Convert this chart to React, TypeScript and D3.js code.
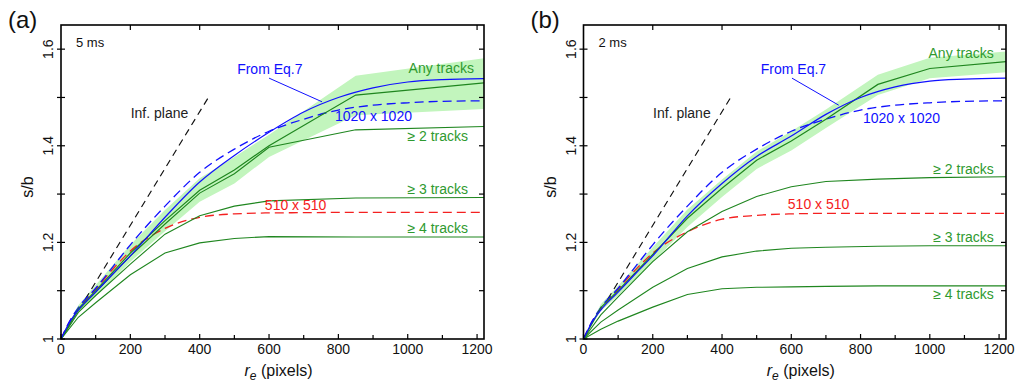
import React from "react";
import * as d3 from "d3";

// ---------- data ----------
const smoothX = [0, 25, 50, 100, 150, 200, 300, 400, 500, 600, 700, 800, 900, 1000, 1100, 1220];

const greenXA = [0, 50, 100, 200, 300, 400, 500, 600, 850, 1220];
const anyA = [1, 1.063, 1.1, 1.178, 1.245, 1.308, 1.35, 1.4, 1.505, 1.53];
const bandHiA = [1, 1.07, 1.112, 1.195, 1.267, 1.333, 1.377, 1.423, 1.545, 1.581];
const bandLoA = [1, 1.056, 1.088, 1.16, 1.223, 1.284, 1.322, 1.377, 1.463, 1.476];
const ge2A = [1, 1.06, 1.097, 1.172, 1.238, 1.302, 1.342, 1.397, 1.433, 1.44];
const ge3A = [1, 1.055, 1.09, 1.155, 1.217, 1.255, 1.275, 1.286, 1.292, 1.293];
const ge4A = [1, 1.045, 1.075, 1.133, 1.178, 1.199, 1.208, 1.212, 1.211, 1.211];
const eq7A = [1, 1.035, 1.06, 1.097, 1.135, 1.172, 1.252, 1.325, 1.38, 1.428, 1.47, 1.5, 1.52, 1.532, 1.537, 1.539];
const d1020A = [1, 1.037, 1.065, 1.105, 1.15, 1.195, 1.275, 1.345, 1.393, 1.43, 1.455, 1.474, 1.484, 1.489, 1.492, 1.493];
const d510A = [1, 1.036, 1.062, 1.103, 1.145, 1.182, 1.229, 1.252, 1.259, 1.261, 1.2615, 1.262, 1.262, 1.262, 1.262, 1.262];

const greenXB = [0, 50, 100, 200, 300, 400, 500, 600, 700, 850, 1000, 1220];
const anyB = [1, 1.065, 1.1, 1.175, 1.25, 1.312, 1.37, 1.41, 1.455, 1.527, 1.56, 1.574];
const bandHiB = [1, 1.072, 1.11, 1.19, 1.268, 1.33, 1.388, 1.43, 1.475, 1.547, 1.582, 1.595];
const bandLoB = [1, 1.058, 1.09, 1.16, 1.232, 1.294, 1.352, 1.39, 1.437, 1.505, 1.54, 1.552];
const ge2B = [1, 1.05, 1.087, 1.16, 1.222, 1.264, 1.295, 1.315, 1.326, 1.331, 1.334, 1.336];
const ge3B = [1, 1.035, 1.06, 1.107, 1.146, 1.17, 1.182, 1.188, 1.19, 1.192, 1.193, 1.193];
const ge4B = [1, 1.02, 1.037, 1.066, 1.092, 1.104, 1.107, 1.108, 1.109, 1.11, 1.11, 1.11];
const eq7B = [1, 1.035, 1.06, 1.097, 1.135, 1.172, 1.255, 1.322, 1.378, 1.42, 1.465, 1.5, 1.522, 1.534, 1.538, 1.54];
const d1020B = [1, 1.037, 1.065, 1.105, 1.15, 1.195, 1.275, 1.345, 1.393, 1.43, 1.455, 1.474, 1.484, 1.489, 1.492, 1.493];
const d510B = [1, 1.036, 1.062, 1.103, 1.143, 1.178, 1.222, 1.248, 1.256, 1.259, 1.26, 1.26, 1.26, 1.26, 1.26, 1.26];

const infPlaneX = [70, 425];
const infPlaneY = [1.0824, 1.5];

const xTickLabels = [0, 200, 400, 600, 800, 1000, 1200];
const yTickLabels = [1, 1.2, 1.4, 1.6];

const FONT = "Liberation Sans, Arial, Helvetica, sans-serif";
const GREEN_LINE = "#1f861f";
const GREEN_TEXT = "#2f9a2f";
const BAND = "#c2f5bd";
const BLUE = "#1010ff";
const RED = "#f42020";

type Panel = {
  left: number; right: number; letter: string; time: string;
  gx: number[]; any: number[]; hi: number[]; lo: number[]; g2: number[]; g3: number[]; g4: number[];
  eq7: number[]; d1020: number[]; d510: number[];
  labels: { t: string; v: number; s: number; anchor: string; color: string }[];
  leader: [number, number, number, number];
};

const panels: Panel[] = [
  {
    left: 61, right: 484, letter: "(a)", time: "5 ms",
    gx: greenXA, any: anyA, hi: bandHiA, lo: bandLoA, g2: ge2A, g3: ge3A, g4: ge4A,
    eq7: eq7A, d1020: d1020A, d510: d510A,
    labels: [
      { t: "Inf. plane", v: 201, s: 1.4576, anchor: "start", color: "#222" },
      { t: "From Eq.7", v: 508, s: 1.5487, anchor: "start", color: BLUE },
      { t: "Any tracks", v: 1191, s: 1.5507, anchor: "end", color: GREEN_TEXT },
      { t: "1020 x 1020", v: 790, s: 1.4513, anchor: "start", color: BLUE },
      { t: "\u2265 2 tracks", v: 1174, s: 1.41, anchor: "end", color: GREEN_TEXT },
      { t: "\u2265 3 tracks", v: 1174, s: 1.3002, anchor: "end", color: GREEN_TEXT },
      { t: "510 x 510", v: 588, s: 1.267, anchor: "start", color: RED },
      { t: "\u2265 4 tracks", v: 1174, s: 1.2188, anchor: "end", color: GREEN_TEXT },
    ],
    leader: [600, 1.54, 753, 1.491],
  },
  {
    left: 583.5, right: 1006, letter: "(b)", time: "2 ms",
    gx: greenXB, any: anyB, hi: bandHiB, lo: bandLoB, g2: ge2B, g3: ge3B, g4: ge4B,
    eq7: eq7B, d1020: d1020B, d510: d510B,
    labels: [
      { t: "Inf. plane", v: 201, s: 1.4576, anchor: "start", color: "#222" },
      { t: "From Eq.7", v: 512, s: 1.5487, anchor: "start", color: BLUE },
      { t: "Any tracks", v: 1185, s: 1.5807, anchor: "end", color: GREEN_TEXT },
      { t: "1020 x 1020", v: 807, s: 1.4478, anchor: "start", color: BLUE },
      { t: "\u2265 2 tracks", v: 1185, s: 1.3416, anchor: "end", color: GREEN_TEXT },
      { t: "510 x 510", v: 590, s: 1.2685, anchor: "start", color: RED },
      { t: "\u2265 3 tracks", v: 1185, s: 1.2014, anchor: "end", color: GREEN_TEXT },
      { t: "\u2265 4 tracks", v: 1185, s: 1.0822, anchor: "end", color: GREEN_TEXT },
    ],
    leader: [602, 1.54, 737, 1.484],
  },
];

const TOP = 25;
const BOTTOM = 339;

function PanelView({ p, idx }: { p: Panel; idx: number }) {
  const x = d3.scaleLinear().domain([0, 1220]).range([p.left, p.right]);
  const y = d3.scaleLinear().domain([1, 1.65]).range([BOTTOM, TOP]);
  const lin = d3.line<[number, number]>().x((d) => x(d[0])).y((d) => y(d[1]));
  const smooth = d3.line<[number, number]>().x((d) => x(d[0])).y((d) => y(d[1])).curve(d3.curveMonotoneX);
  const area = d3.area<number>()
    .x((_, i) => x(p.gx[i]))
    .y0((_, i) => y(p.lo[i]))
    .y1((_, i) => y(p.hi[i]));
  const zipG = (arr: number[]) => p.gx.map((v, i) => [v, arr[i]] as [number, number]);
  const zipS = (arr: number[]) => smoothX.map((v, i) => [v, arr[i]] as [number, number]);
  const clipId = `clip${idx}`;
  const minorX = d3.range(0, 1201, 100);
  const topX = d3.range(200, 1201, 200);
  const yTicks = [1.1, 1.2, 1.3, 1.4, 1.5, 1.6];
  const yAll = [1, 1.1, 1.2, 1.3, 1.4, 1.5, 1.6];
  const midY = (TOP + BOTTOM) / 2;
  return (
    <g fontFamily={FONT}>
      <defs>
        <clipPath id={clipId}>
          <rect x={p.left} y={TOP} width={p.right - p.left} height={BOTTOM - TOP} />
        </clipPath>
      </defs>
      <g clipPath={`url(#${clipId})`}>
        <path d={area(p.hi) || ""} fill={BAND} stroke="none" />
        <path d={lin(infPlaneX.map((v, i) => [v, infPlaneY[i]] as [number, number])) || ""} fill="none" stroke="#111" strokeWidth={1.2} strokeDasharray="7,5" />
        <path d={smooth(zipS(p.d510)) || ""} fill="none" stroke={RED} strokeWidth={1.3} strokeDasharray="9,5" />
        <path d={smooth(zipS(p.d1020)) || ""} fill="none" stroke={BLUE} strokeWidth={1.3} strokeDasharray="9,5" />
        <path d={lin(zipG(p.g4)) || ""} fill="none" stroke={GREEN_LINE} strokeWidth={1.1} />
        <path d={lin(zipG(p.g3)) || ""} fill="none" stroke={GREEN_LINE} strokeWidth={1.1} />
        <path d={lin(zipG(p.g2)) || ""} fill="none" stroke={GREEN_LINE} strokeWidth={1.1} />
        <path d={lin(zipG(p.any)) || ""} fill="none" stroke={GREEN_LINE} strokeWidth={1.2} />
        <path d={smooth(zipS(p.eq7)) || ""} fill="none" stroke={BLUE} strokeWidth={1.2} />
      </g>
      <line x1={x(p.leader[0])} y1={y(p.leader[1])} x2={x(p.leader[2])} y2={y(p.leader[3])} stroke={BLUE} strokeWidth={1} />
      {p.labels.map((l, i) => (
        <text key={i} x={x(l.v)} y={y(l.s)} fontSize={14} fill={l.color} textAnchor={l.anchor}>{l.t}</text>
      ))}
      <text x={p.left + 15} y={47} fontSize={13} fill="#111">{p.time}</text>
      {/* frame */}
      <rect x={p.left} y={TOP} width={p.right - p.left} height={BOTTOM - TOP} fill="none" stroke="#000" strokeWidth={1.6} />
      {/* bottom ticks */}
      {minorX.map((v) => (
        <line key={"bx" + v} x1={x(v)} x2={x(v)} y1={BOTTOM} y2={BOTTOM - (v % 200 === 0 ? 5 : 4)} stroke="#000" strokeWidth={1.2} />
      ))}
      {topX.map((v) => (
        <line key={"tx" + v} x1={x(v)} x2={x(v)} y1={TOP} y2={TOP + 5} stroke="#000" strokeWidth={1.2} />
      ))}
      {yAll.map((v) => (
        <line key={"ly" + v} x1={p.left - 4} x2={p.left + 4} y1={y(v)} y2={y(v)} stroke="#000" strokeWidth={1.2} />
      ))}
      {yTicks.map((v) => (
        <line key={"ry" + v} x1={p.right} x2={p.right - 5} y1={y(v)} y2={y(v)} stroke="#000" strokeWidth={1.2} />
      ))}
      {xTickLabels.map((v) => (
        <text key={"xl" + v} x={x(v)} y={354} fontSize={14} textAnchor="middle" fill="#111">{v}</text>
      ))}
      {yTickLabels.map((v) => (
        <text key={"yl" + v} transform={`translate(${p.left - 8},${y(v)}) rotate(-90)`} fontSize={14} textAnchor="middle" fill="#111">{String(v)}</text>
      ))}
      <text transform={`translate(${p.left - 28},${midY + 5}) rotate(-90)`} fontSize={16} textAnchor="middle" fill="#111">s/b</text>
      <text x={(p.left + p.right) / 2 + 6} y={376} fontSize={16} textAnchor="middle" fill="#111">
        <tspan fontStyle="italic">r</tspan>
        <tspan fontStyle="italic" fontSize={12} dy={4}>e</tspan>
        <tspan dy={-4}> (pixels)</tspan>
      </text>
      <text x={p.left - 53 + (idx === 1 ? 0 : 0)} y={28} fontSize={24} fill="#111">{p.letter}</text>
    </g>
  );
}

export default function App() {
  return (
    <svg width={1016} height={385} style={{ position: "absolute", left: 0, top: 0, background: "#fff" }}>
      <rect x={0} y={0} width={1016} height={385} fill="#fff" />
      {panels.map((p, i) => (
        <PanelView key={i} p={p} idx={i} />
      ))}
    </svg>
  );
}
